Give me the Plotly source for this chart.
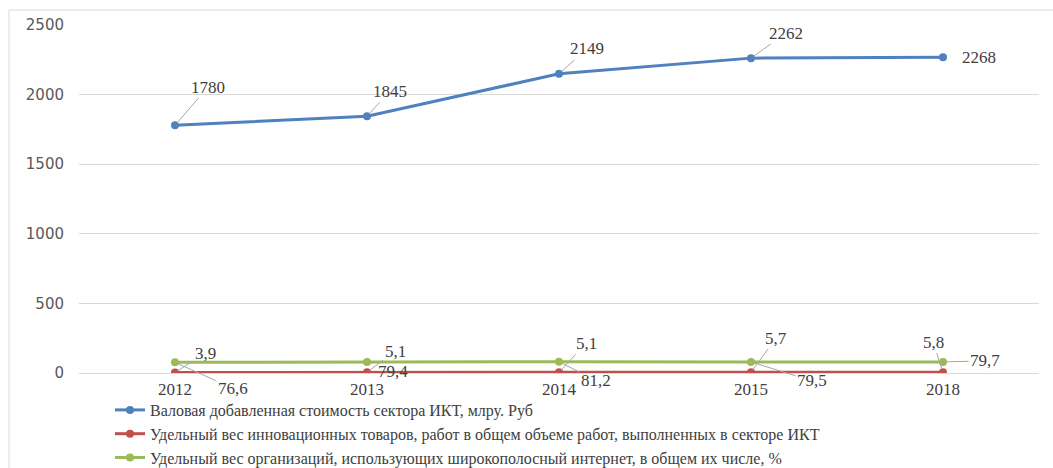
import plotly.graph_objects as go

# Годы и значения показателей
years = ["2012", "2013", "2014", "2015", "2018"]
gva_ict = [1780, 1845, 2149, 2262, 2268]
innov_share = [3.9, 5.1, 5.1, 5.7, 5.8]
broadband_share = [76.6, 79.4, 81.2, 79.5, 79.7]

series_names = [
    "Валовая добавленная стоимость сектора ИКТ, млру. Руб",
    "Удельный вес инновационных товаров, работ в общем объеме работ, выполненных в секторе ИКТ",
    "Удельный вес организаций, использующих широкополосный интернет, в общем их числе, %",
]
colors = ["#4F81BD", "#C0504D", "#9BBB59"]

y_ticks = [0, 500, 1000, 1500, 2000, 2500]

# Смещения подписей данных (px) относительно точек
gva_offsets = [(33, -38), (23, -25), (28, -25), (35, -25), None]
innov_offsets = [(30, -19), (28, -21), (27, -29), (25, -34), (-10, -30)]
broad_offsets = [(58, 26), None, (37, 19), (61, 19), (42, -1)]
broad_shift_no_arrow = {1: (26, 10)}
gva_shift_no_arrow = {4: (36, 0)}

serif = "Liberation Serif"
label_color = "#404040"
label_size = 17
legend_size = 16

fig = go.Figure()
for vals, name, col in zip([gva_ict, innov_share, broadband_share], series_names, colors):
    fig.add_trace(go.Scatter(
        x=years, y=vals, name=name, mode="lines+markers",
        line=dict(color=col, width=3),
        marker=dict(color=col, size=8),
    ))


def fmt(v):
    s = f"{v:g}"
    return s.replace(".", ",")


annotations = []


def add_labels(vals, offsets, no_arrow):
    # позиция по категории задаётся её порядковым номером на оси
    for i, v in enumerate(vals):
        font = dict(family=serif, size=label_size, color=label_color)
        if i in no_arrow:
            dx, dy = no_arrow[i]
            annotations.append(dict(
                x=i, y=v, text=fmt(v), showarrow=False,
                xshift=dx, yshift=-dy, font=font,
            ))
            continue
        dx, dy = offsets[i]
        annotations.append(dict(
            x=i, y=v, text=fmt(v), showarrow=True,
            ax=dx, ay=dy, arrowhead=0, arrowwidth=1, arrowcolor="#A6A6A6",
            standoff=3, font=font,
        ))


add_labels(gva_ict, gva_offsets, gva_shift_no_arrow)
add_labels(innov_share, innov_offsets, {})
add_labels(broadband_share, broad_offsets, broad_shift_no_arrow)

# Рамка области диаграммы
plot_left, plot_right, plot_top, plot_bottom = 79, 1039, 25, 373
pw = plot_right - plot_left
ph = plot_bottom - plot_top
shapes = [dict(
    type="rect", xref="paper", yref="paper",
    x0=(9 - plot_left) / pw, x1=(1070 - plot_left) / pw,
    y0=(plot_bottom - 480) / ph, y1=(plot_bottom - 10) / ph,
    line=dict(color="#D9D9D9", width=1), fillcolor="rgba(0,0,0,0)",
    layer="below",
)]

fig.update_layout(
    width=1053, height=468,
    margin=dict(l=plot_left, r=1053 - plot_right, t=plot_top, b=468 - plot_bottom,
                autoexpand=False),
    paper_bgcolor="white", plot_bgcolor="white",
    showlegend=True,
    legend=dict(
        x=(110 - plot_left) / pw, xanchor="left",
        y=(plot_bottom - 393) / ph, yanchor="top",
        font=dict(family=serif, size=legend_size, color=label_color),
        bgcolor="rgba(0,0,0,0)", traceorder="normal",
    ),
    annotations=annotations,
    shapes=shapes,
    xaxis=dict(
        type="category", range=[-0.5, 4.5],
        showgrid=False, showline=False, zeroline=False,
        ticks="", ticklabelstandoff=4,
        tickfont=dict(family=serif, size=label_size, color=label_color),
    ),
    yaxis=dict(
        range=[0, 2500], tickvals=y_ticks,
        showgrid=True, gridcolor="#D9D9D9", gridwidth=1,
        zeroline=True, zerolinecolor="#D9D9D9", zerolinewidth=1,
        showline=False, ticks="", ticklabelstandoff=14,
        tickfont=dict(family="DejaVu Sans", size=15, color="#595959"),
    ),
)

fig.write_html("out.html")
